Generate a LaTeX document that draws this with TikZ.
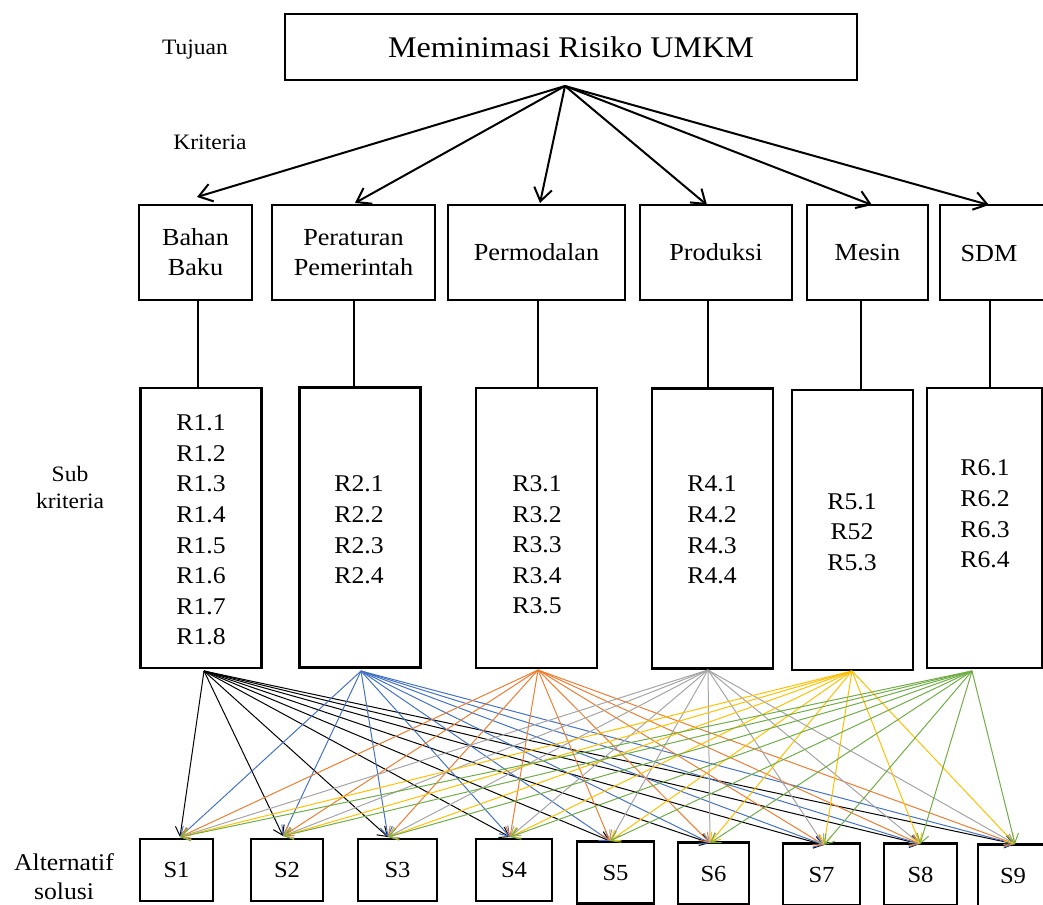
\documentclass[tikz,border=0pt]{standalone}
\usepackage{fontspec}
\setmainfont{Liberation Serif}[FakeStretch=1.07]
\usetikzlibrary{arrows.meta}
\definecolor{cblue}{HTML}{4472C4}
\definecolor{corange}{HTML}{ED7D31}
\definecolor{cgray}{HTML}{A5A5A5}
\definecolor{cgold}{HTML}{FFC000}
\definecolor{cgreen}{HTML}{70AD47}
\begin{document}
\begin{tikzpicture}[x=1pt,y=-1pt,
  box/.style={draw,line width=2.1pt,inner sep=0pt,align=center},
  crit/.style={box,minimum height=95pt,font=\fontsize{24.5}{30}\selectfont},
  subb/.style={box,minimum height=280pt,minimum width=121pt},
  subt/.style={align=center,inner sep=0pt,font=\fontsize{24}{30.6}\selectfont},
  solb/.style={box,minimum height=62pt,font=\fontsize{23}{28}\selectfont},
  side/.style={align=center,inner sep=0pt},
  toparrow/.style={line width=2pt,-{Straight Barb[length=13pt,width=18pt,line width=2pt]}},
  fan/.style={line width=1pt,-{Straight Barb[length=9pt,width=12pt,line width=1pt]}},
  conn/.style={line width=2pt}]
\useasboundingbox (0,0) rectangle (1043,904);
\clip (0,0) rectangle (1043,904);

% goal
\node[box,minimum width=572pt,minimum height=66pt,font=\fontsize{30}{36}\selectfont] (goal) at (571,47) {Meminimasi Risiko UMKM};

% side labels
\node[side,font=\fontsize{22}{26}\selectfont] (ltuj) at (195,50) {Tujuan};
\node[side,font=\fontsize{22}{26}\selectfont] (lkri) at (210,142) {Kriteria};
\node[side,font=\fontsize{22}{27}\selectfont] (lsub) at (70,487) {Sub\\kriteria};
\node[side,font=\fontsize{24}{29}\selectfont] (lalt) at (64,877) {Alternatif\\solusi};

% criteria
\node[crit,minimum width=113pt] (c1) at (195.5,252.5) {Bahan\\Baku};
\node[crit,minimum width=163pt] (c2) at (353.5,252.5) {Peraturan\\Pemerintah};
\node[crit,minimum width=177pt] (c3) at (536.5,252.5) {Permodalan};
\node[crit,minimum width=152pt] (c4) at (716,252.5) {Produksi};
\node[crit,minimum width=121pt] (c5) at (867.5,252.5) {Mesin};
\node[crit,minimum width=105pt] (c6) at (992.5,252.5) {};
\node[subt,font=\fontsize{24.5}{30}\selectfont] (c6t) at (989,254) {SDM};

% sub criteria boxes
\node[subb] (r1) at (201,528) {};
\node[subb] (r2) at (360,527.5) {};
\node[subb] (r3) at (536.5,528) {};
\node[subb] (r4) at (712.5,528.5) {};
\node[subb] (r5) at (852.5,530) {};
\node[subb,minimum width=115pt] (r6) at (984.5,528) {};
\node[subt] (r1t) at (201,530) {R1.1\\R1.2\\R1.3\\R1.4\\R1.5\\R1.6\\R1.7\\R1.8};
\node[subt] (r2t) at (359,530) {R2.1\\R2.2\\R2.3\\R2.4};
\node[subt] (r3t) at (537,545) {R3.1\\R3.2\\R3.3\\R3.4\\R3.5};
\node[subt] (r4t) at (712,530) {R4.1\\R4.2\\R4.3\\R4.4};
\node[subt] (r5t) at (852,532) {R5.1\\R52\\R5.3};
\node[subt] (r6t) at (985,514) {R6.1\\R6.2\\R6.3\\R6.4};

% alternatives
\node[solb,minimum width=73pt] (s1) at (176.5,870) {S1};
\node[solb,minimum width=72pt] (s2) at (287,870) {S2};
\node[solb,minimum width=79pt] (s3) at (397.5,870) {S3};
\node[solb,minimum width=76pt] (s4) at (514,870) {S4};
\node[solb,minimum width=77pt] (s5) at (615.5,872.5) {S5};
\node[solb,minimum width=71pt] (s6) at (713.5,873.5) {S6};
\node[solb,minimum width=77pt] (s7) at (821.5,874.5) {S7};
\node[solb,minimum width=73pt] (s8) at (920.5,874.5) {S8};
\node[solb,minimum width=70pt] (s9) at (1013,875.5) {S9};

% goal arrows
\coordinate (go) at (565,86);
\coordinate (a1) at (197,197);
\coordinate (a2) at (355,203);
\coordinate (a3) at (540,203);
\coordinate (a4) at (707,205);
\coordinate (a5) at (872,205);
\coordinate (a6) at (989,205);
\foreach \i in {1,...,6}{\draw[toparrow] (go) -- (a\i);}

% criteria to sub criteria
\coordinate (v1) at (198,0);
\coordinate (v2) at (354,0);
\coordinate (v3) at (538,0);
\coordinate (v4) at (708,0);
\coordinate (v5) at (861,0);
\coordinate (v6) at (990,0);
\foreach \i in {1,...,6}{\draw[conn] (c\i.south -| v\i) -- (r\i.north -| v\i);}

% fan connectors
\coordinate (o1) at (204,671);
\coordinate (o2) at (361,671);
\coordinate (o3) at (538,670);
\coordinate (o4) at (708,670);
\coordinate (o5) at (852,671);
\coordinate (o6) at (972,671);
\coordinate (t1) at (180,837);
\coordinate (t2) at (283,836);
\coordinate (t3) at (388,837);
\coordinate (t4) at (510,837);
\coordinate (t5) at (610,841);
\coordinate (t6) at (710,843);
\coordinate (t7) at (824,845);
\coordinate (t8) at (920,844);
\coordinate (t9) at (1015,844);
\foreach \o/\c in {o1/black,o2/cblue,o3/corange,o4/cgray,o5/cgold,o6/cgreen}{
  \foreach \i in {1,...,9}{\draw[fan,draw=\c] (\o) -- (t\i);}
}
\end{tikzpicture}
\end{document}
